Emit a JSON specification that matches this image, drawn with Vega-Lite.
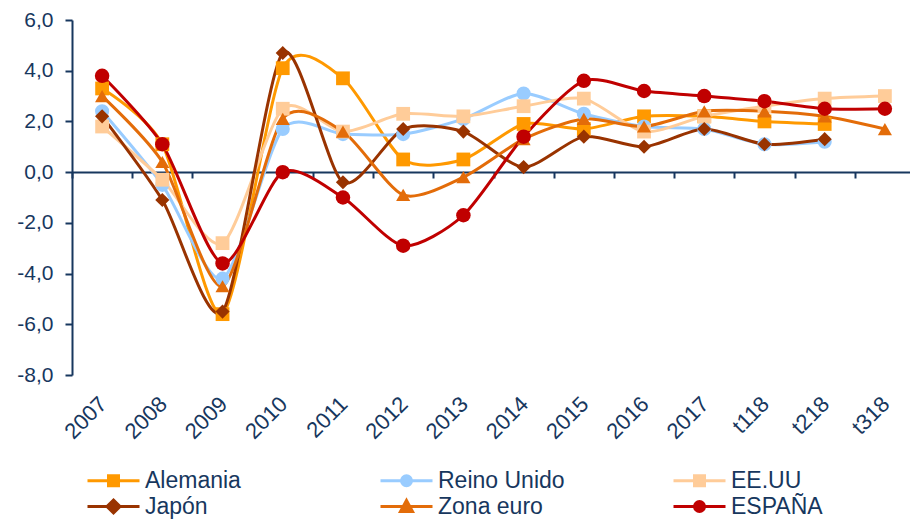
{
  "$schema": "https://vega.github.io/schema/vega-lite/v6.json",
  "autosize": {"type": "none"},
  "padding": {"left": 72, "top": 20, "right": 0, "bottom": 144},
  "width": 838,
  "height": 355,
  "background": "white",
  "config": {"view": {"stroke": null}, "font": "Liberation Sans"},
  "data": {"values": [
    {"p": "2007", "s": "Alemania", "v": 3.3}, {"p": "2008", "s": "Alemania", "v": 1.1}, {"p": "2009", "s": "Alemania", "v": -5.6}, {"p": "2010", "s": "Alemania", "v": 4.1}, {"p": "2011", "s": "Alemania", "v": 3.7}, {"p": "2012", "s": "Alemania", "v": 0.5}, {"p": "2013", "s": "Alemania", "v": 0.5}, {"p": "2014", "s": "Alemania", "v": 1.9}, {"p": "2015", "s": "Alemania", "v": 1.7}, {"p": "2016", "s": "Alemania", "v": 2.2}, {"p": "2017", "s": "Alemania", "v": 2.2}, {"p": "t118", "s": "Alemania", "v": 2.0}, {"p": "t218", "s": "Alemania", "v": 1.9},
    {"p": "2007", "s": "Reino Unido", "v": 2.4}, {"p": "2008", "s": "Reino Unido", "v": -0.5}, {"p": "2009", "s": "Reino Unido", "v": -4.2}, {"p": "2010", "s": "Reino Unido", "v": 1.7}, {"p": "2011", "s": "Reino Unido", "v": 1.5}, {"p": "2012", "s": "Reino Unido", "v": 1.5}, {"p": "2013", "s": "Reino Unido", "v": 2.1}, {"p": "2014", "s": "Reino Unido", "v": 3.1}, {"p": "2015", "s": "Reino Unido", "v": 2.3}, {"p": "2016", "s": "Reino Unido", "v": 1.8}, {"p": "2017", "s": "Reino Unido", "v": 1.7}, {"p": "t118", "s": "Reino Unido", "v": 1.1}, {"p": "t218", "s": "Reino Unido", "v": 1.2},
    {"p": "2007", "s": "EE.UU", "v": 1.8}, {"p": "2008", "s": "EE.UU", "v": -0.3}, {"p": "2009", "s": "EE.UU", "v": -2.8}, {"p": "2010", "s": "EE.UU", "v": 2.5}, {"p": "2011", "s": "EE.UU", "v": 1.6}, {"p": "2012", "s": "EE.UU", "v": 2.3}, {"p": "2013", "s": "EE.UU", "v": 2.2}, {"p": "2014", "s": "EE.UU", "v": 2.6}, {"p": "2015", "s": "EE.UU", "v": 2.9}, {"p": "2016", "s": "EE.UU", "v": 1.6}, {"p": "2017", "s": "EE.UU", "v": 2.2}, {"p": "t118", "s": "EE.UU", "v": 2.6}, {"p": "t218", "s": "EE.UU", "v": 2.9}, {"p": "t318", "s": "EE.UU", "v": 3.0},
    {"p": "2007", "s": "Japón", "v": 2.2}, {"p": "2008", "s": "Japón", "v": -1.1}, {"p": "2009", "s": "Japón", "v": -5.5}, {"p": "2010", "s": "Japón", "v": 4.7}, {"p": "2011", "s": "Japón", "v": -0.4}, {"p": "2012", "s": "Japón", "v": 1.7}, {"p": "2013", "s": "Japón", "v": 1.6}, {"p": "2014", "s": "Japón", "v": 0.2}, {"p": "2015", "s": "Japón", "v": 1.4}, {"p": "2016", "s": "Japón", "v": 1.0}, {"p": "2017", "s": "Japón", "v": 1.7}, {"p": "t118", "s": "Japón", "v": 1.1}, {"p": "t218", "s": "Japón", "v": 1.3},
    {"p": "2007", "s": "Zona euro", "v": 3.0}, {"p": "2008", "s": "Zona euro", "v": 0.4}, {"p": "2009", "s": "Zona euro", "v": -4.5}, {"p": "2010", "s": "Zona euro", "v": 2.1}, {"p": "2011", "s": "Zona euro", "v": 1.6}, {"p": "2012", "s": "Zona euro", "v": -0.9}, {"p": "2013", "s": "Zona euro", "v": -0.2}, {"p": "2014", "s": "Zona euro", "v": 1.3}, {"p": "2015", "s": "Zona euro", "v": 2.1}, {"p": "2016", "s": "Zona euro", "v": 1.8}, {"p": "2017", "s": "Zona euro", "v": 2.4}, {"p": "t118", "s": "Zona euro", "v": 2.4}, {"p": "t218", "s": "Zona euro", "v": 2.2}, {"p": "t318", "s": "Zona euro", "v": 1.7},
    {"p": "2007", "s": "ESPAÑA", "v": 3.8}, {"p": "2008", "s": "ESPAÑA", "v": 1.1}, {"p": "2009", "s": "ESPAÑA", "v": -3.6}, {"p": "2010", "s": "ESPAÑA", "v": 0.0}, {"p": "2011", "s": "ESPAÑA", "v": -1.0}, {"p": "2012", "s": "ESPAÑA", "v": -2.9}, {"p": "2013", "s": "ESPAÑA", "v": -1.7}, {"p": "2014", "s": "ESPAÑA", "v": 1.4}, {"p": "2015", "s": "ESPAÑA", "v": 3.6}, {"p": "2016", "s": "ESPAÑA", "v": 3.2}, {"p": "2017", "s": "ESPAÑA", "v": 3.0}, {"p": "t118", "s": "ESPAÑA", "v": 2.8}, {"p": "t218", "s": "ESPAÑA", "v": 2.5}, {"p": "t318", "s": "ESPAÑA", "v": 2.5}
  ]},
  "resolve": {"axis": {"x": "independent"}},
  "encoding": {
    "y": {"field": "v", "type": "quantitative"},
    "color": {"field": "s", "type": "nominal", "sort": null, "legend": null}
  },
  "layer": [
    {
      "mark": {"type": "line", "interpolate": "cardinal", "tension": 0.25, "strokeWidth": 3},
      "encoding": {
        "x": {"field": "p", "type": "ordinal", "sort": null,
          "scale": {"type": "band", "range": [0, 843], "paddingInner": 0, "paddingOuter": 0},
          "axis": {"orient": "bottom", "title": null, "domain": false, "ticks": false, "grid": false, "labelAngle": -45, "labelAlign": "right", "labelBaseline": "top", "labelFontSize": 22, "labelColor": "#17375E", "labelPadding": 18, "labelOffset": -6}},
        "y": {"field": "v", "type": "quantitative",
          "scale": {"domain": [-8, 6], "nice": false, "zero": false},
          "axis": {"title": null, "grid": false, "values": [-8, -6, -4, -2, 0, 2, 4, 6],
            "labelExpr": "replace((datum.value < 0 ? '-' : '') + format(abs(datum.value), '.1f'), '.', ',')",
            "domainColor": "#17375E", "domainWidth": 2, "tickColor": "#17375E", "tickWidth": 2, "tickSize": 7,
            "labelFontSize": 21, "labelColor": "#17375E", "labelPadding": 12}},
        "color": {"field": "s", "type": "nominal", "sort": null,
          "scale": {"domain": ["Alemania", "Reino Unido", "EE.UU", "Japón", "Zona euro", "ESPAÑA"],
            "range": ["#FF9900", "#99CCFF", "#FFCC99", "#993300", "#E36C09", "#C00000"]},
          "legend": {"orient": "none", "legendX": 30, "legendY": 449, "direction": "horizontal", "columns": 3, "gridAlign": "all",
            "columnPadding": 102, "rowPadding": 1, "padding": 0, "title": null,
            "symbolSize": 100, "symbolStrokeWidth": 3, "labelFontSize": 23, "labelColor": "#17375E", "labelOffset": 20,
            "encode": {"symbols": {"update": {
              "shape": {"signal": "(datum.value === 'Alemania' || datum.value === 'EE.UU') ? 'M-5.2,0H5.2M-1,-1H1V1H-1Z' : datum.value === 'Japón' ? 'M-5.2,0H5.2M0,-1.3L1.3,0L0,1.3L-1.3,0Z' : datum.value === 'Zona euro' ? 'M-5.2,0H5.2M0,-1.2L1.2,1H-1.2Z' : 'M-5.2,0H5.2M1,0A1,1,0,1,1,-1,0A1,1,0,1,1,1,0Z'"},
              "fill": {"signal": "scale('color', datum.value)"},
              "stroke": {"signal": "scale('color', datum.value)"},
              "opacity": {"value": 1}
            }}}}
        }
      }
    },
    {
      "transform": [{"filter": "datum.s === 'Alemania'"}],
      "mark": {"type": "point", "shape": "square", "filled": true, "size": 190, "opacity": 1},
      "encoding": {
        "x": {"field": "p", "type": "ordinal", "sort": null,
          "axis": {"orient": "bottom", "offset": -203, "title": null, "labels": false, "grid": false, "domain": true, "domainColor": "#17375E", "domainWidth": 2,
            "ticks": true, "tickBand": "extent", "tickColor": "#17375E", "tickWidth": 2, "tickSize": 6}}
      }
    },
    {
      "transform": [{"filter": "datum.s === 'Reino Unido'"}],
      "mark": {"type": "point", "shape": "circle", "filled": true, "size": 200, "opacity": 1},
      "encoding": {"x": {"field": "p", "type": "ordinal", "sort": null, "axis": null}}
    },
    {
      "transform": [{"filter": "datum.s === 'EE.UU'"}],
      "mark": {"type": "point", "shape": "square", "filled": true, "size": 190, "opacity": 1},
      "encoding": {"x": {"field": "p", "type": "ordinal", "sort": null, "axis": null}}
    },
    {
      "transform": [{"filter": "datum.s === 'Japón'"}],
      "mark": {"type": "point", "shape": "diamond", "filled": true, "size": 200, "opacity": 1},
      "encoding": {"x": {"field": "p", "type": "ordinal", "sort": null, "axis": null}}
    },
    {
      "transform": [{"filter": "datum.s === 'Zona euro'"}],
      "mark": {"type": "point", "shape": "triangle-up", "filled": true, "size": 200, "opacity": 1},
      "encoding": {"x": {"field": "p", "type": "ordinal", "sort": null, "axis": null}}
    },
    {
      "transform": [{"filter": "datum.s === 'ESPAÑA'"}],
      "mark": {"type": "point", "shape": "circle", "filled": true, "size": 210, "opacity": 1},
      "encoding": {"x": {"field": "p", "type": "ordinal", "sort": null, "axis": null}}
    }
  ]
}
